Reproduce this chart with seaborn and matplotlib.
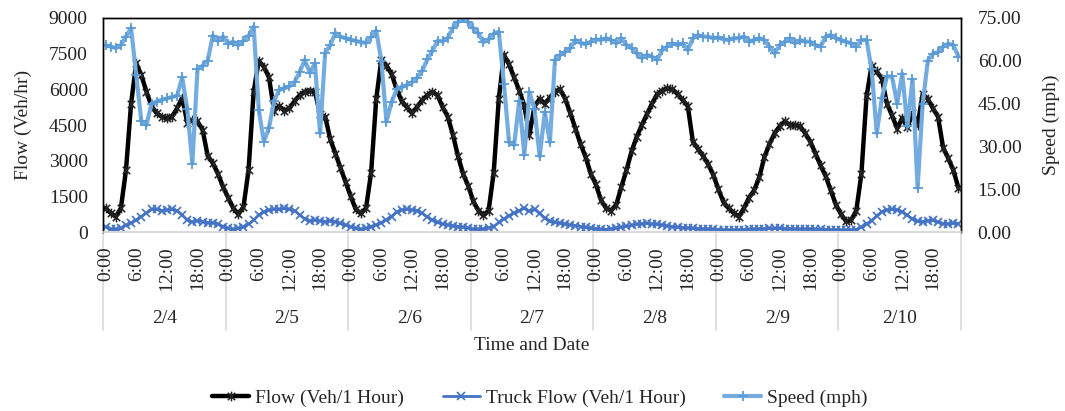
import numpy as np
import pandas as pd
import matplotlib
matplotlib.use("Agg")
import matplotlib.pyplot as plt
from matplotlib.path import Path
from matplotlib.transforms import blended_transform_factory
import seaborn as sns

# ---- data: hourly detector readings, 2/4 through 2/10 ----
dates = ["2/4", "2/5", "2/6", "2/7", "2/8", "2/9", "2/10"]
hour_labels = ["0:00", "6:00", "12:00", "18:00"]

flow = [
    # 2/4
    1000, 800, 650, 1000, 2600, 5400, 7100, 6600, 5900, 5300, 5000, 4850,
    4800, 4850, 5200, 5650, 4600, 4700, 4650, 4300, 3200, 2900, 2450, 1900,
    # 2/5
    1450, 1000, 750, 1050, 2600, 5900, 7200, 6950, 6500, 5100, 5300, 5100,
    5200, 5500, 5750, 5900, 5950, 5900, 4950, 4850, 3900, 3300, 2700, 2100,
    # 2/6
    1500, 950, 780, 1000, 2500, 5600, 7250, 7000, 6650, 6000, 5500, 5250,
    5000, 5250, 5550, 5750, 5900, 5750, 5250, 4850, 4100, 3200, 2450, 1950,
    # 2/7
    1300, 900, 700, 900, 2500, 5600, 7450, 7050, 6500, 5950, 5300, 4100,
    5300, 5600, 5400, 5650, 5900, 6000, 5600, 5000, 4350, 3700, 3150, 2450,
    # 2/8
    2000, 1350, 1000, 900, 1150, 1900, 2600, 3400, 4000, 4500, 4950, 5400,
    5800, 5950, 6050, 6000, 5800, 5550, 5300, 3800, 3500, 3200, 2850, 2400,
    # 2/9
    1800, 1250, 1000, 800, 650, 1000, 1450, 1750, 2300, 3150, 3700, 4150,
    4450, 4650, 4500, 4500, 4450, 4150, 3800, 3300, 2800, 2350, 1750, 1150,
    # 2/10
    750, 450, 500, 900, 2450, 5700, 7000, 6750, 6450, 5400, 4900, 4350,
    4800, 4400, 5000, 4500, 5800, 5600, 5200, 4850, 3550, 3100, 2600, 1850,
]

truck_flow = [
    # 2/4
    220, 120, 110, 150, 280, 380, 500, 650, 800, 950, 950, 900,
    920, 950, 900, 720, 500, 430, 470, 430, 390, 390, 330, 230,
    # 2/5
    150, 110, 150, 220, 330, 500, 720, 850, 920, 950, 950, 990,
    950, 900, 720, 550, 470, 500, 470, 430, 470, 430, 360, 290,
    # 2/6
    220, 150, 110, 150, 220, 300, 390, 520, 650, 850, 930, 950,
    930, 900, 780, 640, 500, 400, 340, 300, 260, 230, 200, 170,
    # 2/7
    120, 110, 130, 170, 230, 400, 550, 680, 800, 900, 1000, 870,
    950, 780, 580, 450, 400, 370, 330, 300, 270, 230, 200, 160,
    # 2/8
    130, 110, 100, 130, 170, 200, 240, 280, 320, 350, 360, 340,
    320, 290, 260, 230, 200, 180, 170, 150, 140, 130, 120, 110,
    # 2/9
    100, 90, 80, 80, 90, 100, 110, 120, 130, 140, 150, 150,
    150, 140, 140, 130, 130, 120, 120, 110, 110, 100, 100, 90,
    # 2/10
    80, 80, 80, 100, 200, 330, 480, 680, 850, 920, 950, 930,
    850, 700, 550, 450, 430, 470, 500, 420, 350, 340, 370, 350,
]

speed = [
    # 2/4
    65.5, 65.0, 64.5, 65.5, 68.5, 71.5, 55.0, 39.0, 37.5, 45.0, 45.7, 46.3,
    46.8, 47.3, 47.8, 54.2, 43.0, 24.0, 57.0, 58.3, 60.0, 68.8, 67.0, 68.5,
    # 2/5
    66.0, 66.7, 65.5, 67.0, 68.7, 72.0, 42.8, 31.7, 36.5, 46.0, 49.8, 50.4,
    51.0, 52.5, 56.0, 60.3, 55.8, 59.1, 34.6, 62.8, 65.5, 69.8, 68.5, 67.9,
    # 2/6
    67.4, 67.0, 66.5, 66.3, 68.3, 70.6, 60.0, 38.7, 45.5, 50.0, 50.8, 51.5,
    52.5, 54.0, 56.5, 60.5, 63.5, 67.0, 66.8, 68.0, 71.5, 73.5, 74.9, 73.5,
    # 2/7
    71.4, 69.6, 66.5, 67.5, 69.5, 70.2, 52.0, 31.5, 30.5, 46.0, 27.0, 49.0,
    43.0, 26.5, 42.0, 31.5, 60.3, 62.0, 63.2, 64.4, 67.3, 66.3, 65.8, 66.7,
    # 2/8
    67.5, 67.3, 67.9, 67.3, 66.1, 67.9, 65.5, 64.4, 62.6, 61.0, 62.0, 61.5,
    60.3, 63.8, 65.0, 66.1, 65.5, 66.1, 63.8, 67.9, 69.0, 68.5, 68.5, 67.9,
    # 2/9
    68.2, 67.5, 67.3, 67.9, 67.9, 68.5, 66.7, 67.3, 67.9, 67.3, 65.0, 62.6,
    65.5, 66.7, 67.9, 66.1, 67.3, 66.7, 66.7, 65.5, 65.0, 68.5, 69.0, 67.9,
    # 2/10
    67.3, 66.7, 66.1, 65.0, 67.3, 67.3, 57.0, 34.6, 47.0, 54.5, 54.5, 45.0,
    55.5, 37.0, 53.5, 15.5, 45.0, 60.0, 62.5, 63.0, 65.0, 66.0, 65.5, 61.5,
]

# ---- style ----
sns.set_theme(style="white")
plt.rcParams["font.family"] = ["Liberation Serif", "DejaVu Serif"]
FS = 14

n_hours = len(flow)
df = pd.DataFrame({
    "pos": np.arange(n_hours) + 0.5,   # category centres
    "flow": flow,
    "truck": truck_flow,
    "speed": speed,
})

W, H = 1065, 411
fig = plt.figure(figsize=(W / 100, H / 100), dpi=100)
ax = fig.add_axes([103 / W, 1 - 232 / H, (961 - 103) / W, (232 - 18) / H])
ax2 = ax.twinx()

# Excel-style "star" marker: an x with a vertical stroke
star = Path([(-1, -1), (1, 1), (-1, 1), (1, -1), (0, -1.3), (0, 1.3)],
            [Path.MOVETO, Path.LINETO, Path.MOVETO, Path.LINETO,
             Path.MOVETO, Path.LINETO])

sns.lineplot(data=df, x="pos", y="flow", ax=ax, color="black", lw=3.2,
             marker=star, markersize=7, markeredgewidth=1.1,
             markeredgecolor="#222222", label="Flow (Veh/1 Hour)", zorder=3)
sns.lineplot(data=df, x="pos", y="truck", ax=ax, color="#4472C4", lw=2.0,
             marker="x", markersize=6, markeredgewidth=1.2,
             markeredgecolor="#4472C4", label="Truck Flow (Veh/1 Hour)", zorder=2)
sns.lineplot(data=df, x="pos", y="speed", ax=ax2, color="#74ACDF", lw=3.0,
             marker="+", markersize=7, markeredgewidth=1.3,
             markeredgecolor="#5B9BD5", label="Speed (mph)", zorder=2)

# ---- axes ----
ax.set_xlim(0, n_hours)
ax.set_ylim(0, 9000)
ax.set_yticks(np.arange(0, 9001, 1500))
ax.set_yticklabels([f"{v:d}" for v in range(0, 9001, 1500)], fontsize=FS)
ax2.set_ylim(0, 75)
ax2.set_yticks(np.arange(0, 76, 15))
ax2.set_yticklabels([f"{v:.2f}" for v in range(0, 76, 15)], fontsize=FS)

tick_pos = [d * 24 + h + 0.5 for d in range(len(dates)) for h in (0, 6, 12, 18)]
ax.set_xticks(tick_pos)
ax.set_xticklabels(hour_labels * len(dates), rotation=90, fontsize=FS,
                   va="top", ha="center")
ax.tick_params(axis="x", length=0, pad=10)
ax.tick_params(axis="y", length=0, pad=11, colors="#222222")
ax2.tick_params(axis="y", length=0, pad=12, colors="#222222")

ax.set_xlabel("")
ax.set_ylabel("Flow (Veh/hr)", fontsize=FS, labelpad=12)
ax2.set_ylabel("Speed (mph)", fontsize=FS, labelpad=15)

for a in (ax, ax2):
    for side in ("left", "right", "top"):
        a.spines[side].set_color("black")
        a.spines[side].set_linewidth(1.0)
    a.spines["bottom"].set_color("#D9D9D9")
    a.spines["bottom"].set_linewidth(1.2)
    a.grid(False)

ax.get_legend().remove()
ax2.get_legend().remove()

# ---- grouped category axis: day separators and date labels ----
trans = blended_transform_factory(ax.transData, fig.transFigure)
y_top, y_bot = 1 - 232 / H, 1 - 330 / H
for d in range(len(dates) + 1):
    ax.plot([d * 24, d * 24], [y_top, y_bot], transform=trans,
            color="#D9D9D9", lw=1.2, clip_on=False, zorder=0)
for d, lab in enumerate(dates):
    fig.text(d * 24 + 12, 1 - 318 / H, lab, transform=trans,
             ha="center", va="center", fontsize=FS)

fig.text(532 / W, 1 - 345 / H, "Time and Date", ha="center", va="center",
         fontsize=FS)

# ---- legend ----
handles = ax.get_lines()[:2] + ax2.get_lines()[:1]
labels = ["Flow (Veh/1 Hour)", "Truck Flow (Veh/1 Hour)", "Speed (mph)"]
fig.legend(handles, labels, loc="center", bbox_to_anchor=(540 / W, 1 - 398 / H),
           ncol=3, frameon=False, fontsize=FS, handlelength=1.9,
           handletextpad=0.3, columnspacing=2.0, numpoints=1)

fig.savefig("out.png", dpi=100)
